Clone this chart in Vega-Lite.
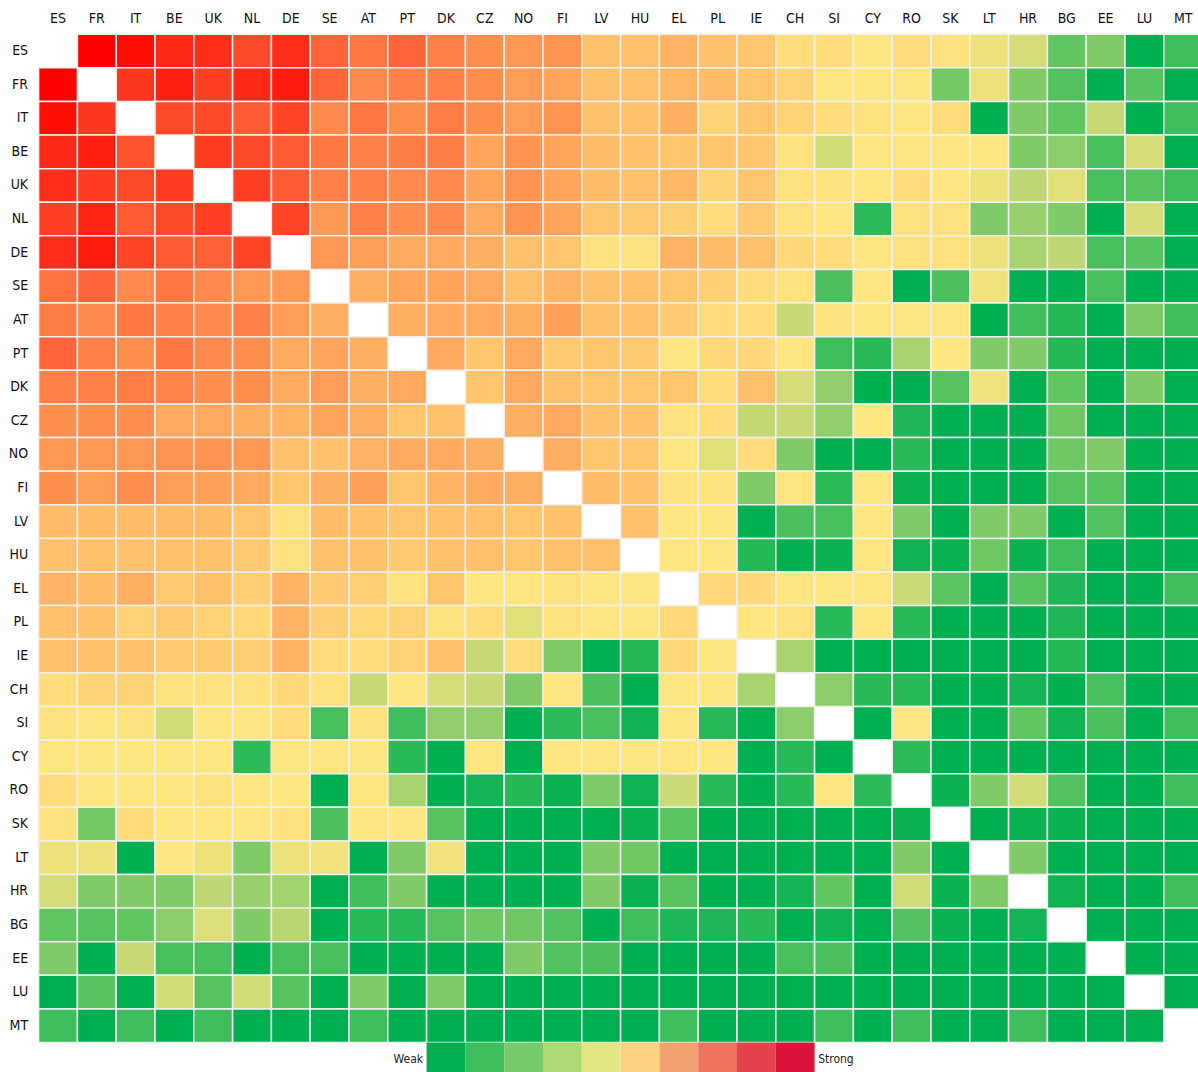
{
"$schema":"https://vega.github.io/schema/vega-lite/v6.json",
"width":1164,"height":1042,
"autosize":{"type":"none"},
"padding":{"left":38.6,"top":34.2,"right":0,"bottom":0},
"background":"white",
"config":{"view":{"stroke":null},"font":"DejaVu Sans Condensed"},
"layer":[
{"data":{"values":[
{"r":"ES","c":"FR","v":100},{"r":"ES","c":"IT","v":97},{"r":"ES","c":"BE","v":91},{"r":"ES","c":"UK","v":90},{"r":"ES","c":"NL","v":84},{"r":"ES","c":"DE","v":90},{"r":"ES","c":"SE","v":78},{"r":"ES","c":"AT","v":74},{"r":"ES","c":"PT","v":78},{"r":"ES","c":"DK","v":72},{"r":"ES","c":"CZ","v":69},{"r":"ES","c":"NO","v":67},{"r":"ES","c":"FI","v":68},{"r":"ES","c":"LV","v":58},{"r":"ES","c":"HU","v":58},{"r":"ES","c":"EL","v":61},{"r":"ES","c":"PL","v":58},{"r":"ES","c":"IE","v":57},{"r":"ES","c":"CH","v":52},{"r":"ES","c":"SI","v":52},{"r":"ES","c":"CY","v":50},{"r":"ES","c":"RO","v":52},{"r":"ES","c":"SK","v":51},{"r":"ES","c":"LT","v":46},{"r":"ES","c":"HR","v":42},{"r":"ES","c":"BG","v":19},{"r":"ES","c":"EE","v":25},{"r":"ES","c":"LU","v":0},{"r":"ES","c":"MT","v":12},
{"r":"FR","c":"ES","v":100},{"r":"FR","c":"IT","v":88},{"r":"FR","c":"BE","v":93},{"r":"FR","c":"UK","v":86},{"r":"FR","c":"NL","v":91},{"r":"FR","c":"DE","v":94},{"r":"FR","c":"SE","v":78},{"r":"FR","c":"AT","v":70},{"r":"FR","c":"PT","v":72},{"r":"FR","c":"DK","v":72},{"r":"FR","c":"CZ","v":69},{"r":"FR","c":"NO","v":66},{"r":"FR","c":"FI","v":64},{"r":"FR","c":"LV","v":58},{"r":"FR","c":"HU","v":58},{"r":"FR","c":"EL","v":60},{"r":"FR","c":"PL","v":59},{"r":"FR","c":"IE","v":57},{"r":"FR","c":"CH","v":54},{"r":"FR","c":"SI","v":50},{"r":"FR","c":"CY","v":50},{"r":"FR","c":"RO","v":50},{"r":"FR","c":"SK","v":23},{"r":"FR","c":"LT","v":46},{"r":"FR","c":"HR","v":25},{"r":"FR","c":"BG","v":16},{"r":"FR","c":"EE","v":0},{"r":"FR","c":"LU","v":17},{"r":"FR","c":"MT","v":0},
{"r":"IT","c":"ES","v":97},{"r":"IT","c":"FR","v":88},{"r":"IT","c":"BE","v":84},{"r":"IT","c":"UK","v":84},{"r":"IT","c":"NL","v":80},{"r":"IT","c":"DE","v":85},{"r":"IT","c":"SE","v":70},{"r":"IT","c":"AT","v":74},{"r":"IT","c":"PT","v":69},{"r":"IT","c":"DK","v":73},{"r":"IT","c":"CZ","v":69},{"r":"IT","c":"NO","v":66},{"r":"IT","c":"FI","v":68},{"r":"IT","c":"LV","v":58},{"r":"IT","c":"HU","v":58},{"r":"IT","c":"EL","v":62},{"r":"IT","c":"PL","v":54},{"r":"IT","c":"IE","v":57},{"r":"IT","c":"CH","v":54},{"r":"IT","c":"SI","v":52},{"r":"IT","c":"CY","v":51},{"r":"IT","c":"RO","v":50},{"r":"IT","c":"SK","v":52},{"r":"IT","c":"LT","v":0},{"r":"IT","c":"HR","v":25},{"r":"IT","c":"BG","v":19},{"r":"IT","c":"EE","v":39},{"r":"IT","c":"LU","v":0},{"r":"IT","c":"MT","v":12},
{"r":"BE","c":"ES","v":91},{"r":"BE","c":"FR","v":93},{"r":"BE","c":"IT","v":82},{"r":"BE","c":"UK","v":87},{"r":"BE","c":"NL","v":84},{"r":"BE","c":"DE","v":80},{"r":"BE","c":"SE","v":74},{"r":"BE","c":"AT","v":72},{"r":"BE","c":"PT","v":73},{"r":"BE","c":"DK","v":73},{"r":"BE","c":"CZ","v":64},{"r":"BE","c":"NO","v":68},{"r":"BE","c":"FI","v":64},{"r":"BE","c":"LV","v":59},{"r":"BE","c":"HU","v":58},{"r":"BE","c":"EL","v":57},{"r":"BE","c":"PL","v":57},{"r":"BE","c":"IE","v":57},{"r":"BE","c":"CH","v":51},{"r":"BE","c":"SI","v":41},{"r":"BE","c":"CY","v":50},{"r":"BE","c":"RO","v":50},{"r":"BE","c":"SK","v":50},{"r":"BE","c":"LT","v":50},{"r":"BE","c":"HR","v":25},{"r":"BE","c":"BG","v":27},{"r":"BE","c":"EE","v":14},{"r":"BE","c":"LU","v":42},{"r":"BE","c":"MT","v":0},
{"r":"UK","c":"ES","v":90},{"r":"UK","c":"FR","v":87},{"r":"UK","c":"IT","v":84},{"r":"UK","c":"BE","v":87},{"r":"UK","c":"NL","v":86},{"r":"UK","c":"DE","v":80},{"r":"UK","c":"SE","v":72},{"r":"UK","c":"AT","v":72},{"r":"UK","c":"PT","v":70},{"r":"UK","c":"DK","v":70},{"r":"UK","c":"CZ","v":64},{"r":"UK","c":"NO","v":68},{"r":"UK","c":"FI","v":64},{"r":"UK","c":"LV","v":59},{"r":"UK","c":"HU","v":58},{"r":"UK","c":"EL","v":60},{"r":"UK","c":"PL","v":54},{"r":"UK","c":"IE","v":57},{"r":"UK","c":"CH","v":51},{"r":"UK","c":"SI","v":51},{"r":"UK","c":"CY","v":50},{"r":"UK","c":"RO","v":52},{"r":"UK","c":"SK","v":50},{"r":"UK","c":"LT","v":46},{"r":"UK","c":"HR","v":37},{"r":"UK","c":"BG","v":44},{"r":"UK","c":"EE","v":14},{"r":"UK","c":"LU","v":17},{"r":"UK","c":"MT","v":12},
{"r":"NL","c":"ES","v":86},{"r":"NL","c":"FR","v":92},{"r":"NL","c":"IT","v":80},{"r":"NL","c":"BE","v":84},{"r":"NL","c":"UK","v":86},{"r":"NL","c":"DE","v":85},{"r":"NL","c":"SE","v":67},{"r":"NL","c":"AT","v":72},{"r":"NL","c":"PT","v":69},{"r":"NL","c":"DK","v":70},{"r":"NL","c":"CZ","v":63},{"r":"NL","c":"NO","v":68},{"r":"NL","c":"FI","v":64},{"r":"NL","c":"LV","v":57},{"r":"NL","c":"HU","v":56},{"r":"NL","c":"EL","v":55},{"r":"NL","c":"PL","v":52},{"r":"NL","c":"IE","v":56},{"r":"NL","c":"CH","v":51},{"r":"NL","c":"SI","v":50},{"r":"NL","c":"CY","v":9},{"r":"NL","c":"RO","v":51},{"r":"NL","c":"SK","v":51},{"r":"NL","c":"LT","v":25},{"r":"NL","c":"HR","v":30},{"r":"NL","c":"BG","v":25},{"r":"NL","c":"EE","v":0},{"r":"NL","c":"LU","v":42},{"r":"NL","c":"MT","v":0},
{"r":"DE","c":"ES","v":90},{"r":"DE","c":"FR","v":94},{"r":"DE","c":"IT","v":85},{"r":"DE","c":"BE","v":80},{"r":"DE","c":"UK","v":79},{"r":"DE","c":"NL","v":85},{"r":"DE","c":"SE","v":67},{"r":"DE","c":"AT","v":66},{"r":"DE","c":"PT","v":63},{"r":"DE","c":"DK","v":63},{"r":"DE","c":"CZ","v":62},{"r":"DE","c":"NO","v":58},{"r":"DE","c":"FI","v":57},{"r":"DE","c":"LV","v":51},{"r":"DE","c":"HU","v":51},{"r":"DE","c":"EL","v":61},{"r":"DE","c":"PL","v":59},{"r":"DE","c":"IE","v":58},{"r":"DE","c":"CH","v":53},{"r":"DE","c":"SI","v":52},{"r":"DE","c":"CY","v":50},{"r":"DE","c":"RO","v":51},{"r":"DE","c":"SK","v":51},{"r":"DE","c":"LT","v":46},{"r":"DE","c":"HR","v":33},{"r":"DE","c":"BG","v":37},{"r":"DE","c":"EE","v":14},{"r":"DE","c":"LU","v":17},{"r":"DE","c":"MT","v":0},
{"r":"SE","c":"ES","v":75},{"r":"SE","c":"FR","v":78},{"r":"SE","c":"IT","v":70},{"r":"SE","c":"BE","v":74},{"r":"SE","c":"UK","v":70},{"r":"SE","c":"NL","v":67},{"r":"SE","c":"DE","v":67},{"r":"SE","c":"AT","v":62},{"r":"SE","c":"PT","v":64},{"r":"SE","c":"DK","v":64},{"r":"SE","c":"CZ","v":63},{"r":"SE","c":"NO","v":58},{"r":"SE","c":"FI","v":61},{"r":"SE","c":"LV","v":58},{"r":"SE","c":"HU","v":58},{"r":"SE","c":"EL","v":57},{"r":"SE","c":"PL","v":55},{"r":"SE","c":"IE","v":52},{"r":"SE","c":"CH","v":51},{"r":"SE","c":"SI","v":15},{"r":"SE","c":"CY","v":50},{"r":"SE","c":"RO","v":0},{"r":"SE","c":"SK","v":15},{"r":"SE","c":"LT","v":47},{"r":"SE","c":"HR","v":0},{"r":"SE","c":"BG","v":0},{"r":"SE","c":"EE","v":14},{"r":"SE","c":"LU","v":0},{"r":"SE","c":"MT","v":0},
{"r":"AT","c":"ES","v":73},{"r":"AT","c":"FR","v":70},{"r":"AT","c":"IT","v":74},{"r":"AT","c":"BE","v":72},{"r":"AT","c":"UK","v":70},{"r":"AT","c":"NL","v":72},{"r":"AT","c":"DE","v":66},{"r":"AT","c":"SE","v":62},{"r":"AT","c":"PT","v":62},{"r":"AT","c":"DK","v":63},{"r":"AT","c":"CZ","v":63},{"r":"AT","c":"NO","v":62},{"r":"AT","c":"FI","v":65},{"r":"AT","c":"LV","v":58},{"r":"AT","c":"HU","v":58},{"r":"AT","c":"EL","v":56},{"r":"AT","c":"PL","v":52},{"r":"AT","c":"IE","v":52},{"r":"AT","c":"CH","v":39},{"r":"AT","c":"SI","v":51},{"r":"AT","c":"CY","v":50},{"r":"AT","c":"RO","v":50},{"r":"AT","c":"SK","v":50},{"r":"AT","c":"LT","v":0},{"r":"AT","c":"HR","v":12},{"r":"AT","c":"BG","v":7},{"r":"AT","c":"EE","v":0},{"r":"AT","c":"LU","v":25},{"r":"AT","c":"MT","v":12},
{"r":"PT","c":"ES","v":78},{"r":"PT","c":"FR","v":72},{"r":"PT","c":"IT","v":69},{"r":"PT","c":"BE","v":74},{"r":"PT","c":"UK","v":70},{"r":"PT","c":"NL","v":69},{"r":"PT","c":"DE","v":63},{"r":"PT","c":"SE","v":64},{"r":"PT","c":"AT","v":62},{"r":"PT","c":"DK","v":63},{"r":"PT","c":"CZ","v":57},{"r":"PT","c":"NO","v":63},{"r":"PT","c":"FI","v":56},{"r":"PT","c":"LV","v":57},{"r":"PT","c":"HU","v":56},{"r":"PT","c":"EL","v":50},{"r":"PT","c":"PL","v":53},{"r":"PT","c":"IE","v":53},{"r":"PT","c":"CH","v":50},{"r":"PT","c":"SI","v":12},{"r":"PT","c":"CY","v":8},{"r":"PT","c":"RO","v":33},{"r":"PT","c":"SK","v":50},{"r":"PT","c":"LT","v":25},{"r":"PT","c":"HR","v":25},{"r":"PT","c":"BG","v":7},{"r":"PT","c":"EE","v":0},{"r":"PT","c":"LU","v":0},{"r":"PT","c":"MT","v":0},
{"r":"DK","c":"ES","v":72},{"r":"DK","c":"FR","v":72},{"r":"DK","c":"IT","v":73},{"r":"DK","c":"BE","v":71},{"r":"DK","c":"UK","v":69},{"r":"DK","c":"NL","v":69},{"r":"DK","c":"DE","v":63},{"r":"DK","c":"SE","v":66},{"r":"DK","c":"AT","v":62},{"r":"DK","c":"PT","v":63},{"r":"DK","c":"CZ","v":57},{"r":"DK","c":"NO","v":63},{"r":"DK","c":"FI","v":58},{"r":"DK","c":"LV","v":57},{"r":"DK","c":"HU","v":57},{"r":"DK","c":"EL","v":57},{"r":"DK","c":"PL","v":52},{"r":"DK","c":"IE","v":58},{"r":"DK","c":"CH","v":42},{"r":"DK","c":"SI","v":28},{"r":"DK","c":"CY","v":0},{"r":"DK","c":"RO","v":0},{"r":"DK","c":"SK","v":17},{"r":"DK","c":"LT","v":47},{"r":"DK","c":"HR","v":0},{"r":"DK","c":"BG","v":19},{"r":"DK","c":"EE","v":0},{"r":"DK","c":"LU","v":25},{"r":"DK","c":"MT","v":0},
{"r":"CZ","c":"ES","v":69},{"r":"CZ","c":"FR","v":69},{"r":"CZ","c":"IT","v":69},{"r":"CZ","c":"BE","v":63},{"r":"CZ","c":"UK","v":63},{"r":"CZ","c":"NL","v":62},{"r":"CZ","c":"DE","v":61},{"r":"CZ","c":"SE","v":64},{"r":"CZ","c":"AT","v":62},{"r":"CZ","c":"PT","v":57},{"r":"CZ","c":"DK","v":58},{"r":"CZ","c":"NO","v":62},{"r":"CZ","c":"FI","v":63},{"r":"CZ","c":"LV","v":58},{"r":"CZ","c":"HU","v":58},{"r":"CZ","c":"EL","v":51},{"r":"CZ","c":"PL","v":52},{"r":"CZ","c":"IE","v":38},{"r":"CZ","c":"CH","v":39},{"r":"CZ","c":"SI","v":28},{"r":"CZ","c":"CY","v":50},{"r":"CZ","c":"RO","v":6},{"r":"CZ","c":"SK","v":0},{"r":"CZ","c":"LT","v":0},{"r":"CZ","c":"HR","v":0},{"r":"CZ","c":"BG","v":22},{"r":"CZ","c":"EE","v":0},{"r":"CZ","c":"LU","v":0},{"r":"CZ","c":"MT","v":0},
{"r":"NO","c":"ES","v":67},{"r":"NO","c":"FR","v":67},{"r":"NO","c":"IT","v":67},{"r":"NO","c":"BE","v":68},{"r":"NO","c":"UK","v":68},{"r":"NO","c":"NL","v":67},{"r":"NO","c":"DE","v":58},{"r":"NO","c":"SE","v":58},{"r":"NO","c":"AT","v":61},{"r":"NO","c":"PT","v":63},{"r":"NO","c":"DK","v":63},{"r":"NO","c":"CZ","v":62},{"r":"NO","c":"FI","v":62},{"r":"NO","c":"LV","v":57},{"r":"NO","c":"HU","v":57},{"r":"NO","c":"EL","v":50},{"r":"NO","c":"PL","v":44},{"r":"NO","c":"IE","v":52},{"r":"NO","c":"CH","v":25},{"r":"NO","c":"SI","v":0},{"r":"NO","c":"CY","v":0},{"r":"NO","c":"RO","v":8},{"r":"NO","c":"SK","v":0},{"r":"NO","c":"LT","v":0},{"r":"NO","c":"HR","v":0},{"r":"NO","c":"BG","v":22},{"r":"NO","c":"EE","v":25},{"r":"NO","c":"LU","v":0},{"r":"NO","c":"MT","v":0},
{"r":"FI","c":"ES","v":69},{"r":"FI","c":"FR","v":66},{"r":"FI","c":"IT","v":69},{"r":"FI","c":"BE","v":66},{"r":"FI","c":"UK","v":65},{"r":"FI","c":"NL","v":63},{"r":"FI","c":"DE","v":57},{"r":"FI","c":"SE","v":62},{"r":"FI","c":"AT","v":65},{"r":"FI","c":"PT","v":57},{"r":"FI","c":"DK","v":61},{"r":"FI","c":"CZ","v":63},{"r":"FI","c":"NO","v":62},{"r":"FI","c":"LV","v":59},{"r":"FI","c":"HU","v":58},{"r":"FI","c":"EL","v":51},{"r":"FI","c":"PL","v":51},{"r":"FI","c":"IE","v":25},{"r":"FI","c":"CH","v":50},{"r":"FI","c":"SI","v":9},{"r":"FI","c":"CY","v":50},{"r":"FI","c":"RO","v":2},{"r":"FI","c":"SK","v":0},{"r":"FI","c":"LT","v":0},{"r":"FI","c":"HR","v":0},{"r":"FI","c":"BG","v":17},{"r":"FI","c":"EE","v":17},{"r":"FI","c":"LU","v":0},{"r":"FI","c":"MT","v":0},
{"r":"LV","c":"ES","v":59},{"r":"LV","c":"FR","v":59},{"r":"LV","c":"IT","v":59},{"r":"LV","c":"BE","v":59},{"r":"LV","c":"UK","v":59},{"r":"LV","c":"NL","v":57},{"r":"LV","c":"DE","v":51},{"r":"LV","c":"SE","v":59},{"r":"LV","c":"AT","v":58},{"r":"LV","c":"PT","v":57},{"r":"LV","c":"DK","v":58},{"r":"LV","c":"CZ","v":58},{"r":"LV","c":"NO","v":57},{"r":"LV","c":"FI","v":58},{"r":"LV","c":"HU","v":58},{"r":"LV","c":"EL","v":50},{"r":"LV","c":"PL","v":50},{"r":"LV","c":"IE","v":0},{"r":"LV","c":"CH","v":15},{"r":"LV","c":"SI","v":14},{"r":"LV","c":"CY","v":50},{"r":"LV","c":"RO","v":25},{"r":"LV","c":"SK","v":0},{"r":"LV","c":"LT","v":25},{"r":"LV","c":"HR","v":25},{"r":"LV","c":"BG","v":0},{"r":"LV","c":"EE","v":16},{"r":"LV","c":"LU","v":0},{"r":"LV","c":"MT","v":0},
{"r":"HU","c":"ES","v":58},{"r":"HU","c":"FR","v":58},{"r":"HU","c":"IT","v":58},{"r":"HU","c":"BE","v":58},{"r":"HU","c":"UK","v":58},{"r":"HU","c":"NL","v":56},{"r":"HU","c":"DE","v":51},{"r":"HU","c":"SE","v":58},{"r":"HU","c":"AT","v":58},{"r":"HU","c":"PT","v":56},{"r":"HU","c":"DK","v":58},{"r":"HU","c":"CZ","v":58},{"r":"HU","c":"NO","v":57},{"r":"HU","c":"FI","v":58},{"r":"HU","c":"LV","v":58},{"r":"HU","c":"EL","v":50},{"r":"HU","c":"PL","v":50},{"r":"HU","c":"IE","v":7},{"r":"HU","c":"CH","v":0},{"r":"HU","c":"SI","v":2},{"r":"HU","c":"CY","v":50},{"r":"HU","c":"RO","v":3},{"r":"HU","c":"SK","v":2},{"r":"HU","c":"LT","v":22},{"r":"HU","c":"HR","v":2},{"r":"HU","c":"BG","v":12},{"r":"HU","c":"EE","v":0},{"r":"HU","c":"LU","v":0},{"r":"HU","c":"MT","v":0},
{"r":"EL","c":"ES","v":61},{"r":"EL","c":"FR","v":59},{"r":"EL","c":"IT","v":62},{"r":"EL","c":"BE","v":56},{"r":"EL","c":"UK","v":58},{"r":"EL","c":"NL","v":55},{"r":"EL","c":"DE","v":61},{"r":"EL","c":"SE","v":56},{"r":"EL","c":"AT","v":55},{"r":"EL","c":"PT","v":51},{"r":"EL","c":"DK","v":57},{"r":"EL","c":"CZ","v":50},{"r":"EL","c":"NO","v":50},{"r":"EL","c":"FI","v":51},{"r":"EL","c":"LV","v":50},{"r":"EL","c":"HU","v":50},{"r":"EL","c":"PL","v":53},{"r":"EL","c":"IE","v":53},{"r":"EL","c":"CH","v":50},{"r":"EL","c":"SI","v":50},{"r":"EL","c":"CY","v":50},{"r":"EL","c":"RO","v":40},{"r":"EL","c":"SK","v":18},{"r":"EL","c":"LT","v":0},{"r":"EL","c":"HR","v":17},{"r":"EL","c":"BG","v":6},{"r":"EL","c":"EE","v":0},{"r":"EL","c":"LU","v":0},{"r":"EL","c":"MT","v":12},
{"r":"PL","c":"ES","v":58},{"r":"PL","c":"FR","v":58},{"r":"PL","c":"IT","v":54},{"r":"PL","c":"BE","v":56},{"r":"PL","c":"UK","v":54},{"r":"PL","c":"NL","v":53},{"r":"PL","c":"DE","v":61},{"r":"PL","c":"SE","v":55},{"r":"PL","c":"AT","v":53},{"r":"PL","c":"PT","v":54},{"r":"PL","c":"DK","v":51},{"r":"PL","c":"CZ","v":52},{"r":"PL","c":"NO","v":44},{"r":"PL","c":"FI","v":51},{"r":"PL","c":"LV","v":50},{"r":"PL","c":"HU","v":50},{"r":"PL","c":"EL","v":53},{"r":"PL","c":"IE","v":50},{"r":"PL","c":"CH","v":51},{"r":"PL","c":"SI","v":8},{"r":"PL","c":"CY","v":50},{"r":"PL","c":"RO","v":8},{"r":"PL","c":"SK","v":0},{"r":"PL","c":"LT","v":0},{"r":"PL","c":"HR","v":0},{"r":"PL","c":"BG","v":6},{"r":"PL","c":"EE","v":0},{"r":"PL","c":"LU","v":0},{"r":"PL","c":"MT","v":0},
{"r":"IE","c":"ES","v":58},{"r":"IE","c":"FR","v":58},{"r":"IE","c":"IT","v":58},{"r":"IE","c":"BE","v":56},{"r":"IE","c":"UK","v":56},{"r":"IE","c":"NL","v":55},{"r":"IE","c":"DE","v":61},{"r":"IE","c":"SE","v":52},{"r":"IE","c":"AT","v":52},{"r":"IE","c":"PT","v":54},{"r":"IE","c":"DK","v":58},{"r":"IE","c":"CZ","v":39},{"r":"IE","c":"NO","v":52},{"r":"IE","c":"FI","v":25},{"r":"IE","c":"LV","v":0},{"r":"IE","c":"HU","v":7},{"r":"IE","c":"EL","v":53},{"r":"IE","c":"PL","v":50},{"r":"IE","c":"CH","v":33},{"r":"IE","c":"SI","v":0},{"r":"IE","c":"CY","v":0},{"r":"IE","c":"RO","v":0},{"r":"IE","c":"SK","v":0},{"r":"IE","c":"LT","v":0},{"r":"IE","c":"HR","v":0},{"r":"IE","c":"BG","v":7},{"r":"IE","c":"EE","v":0},{"r":"IE","c":"LU","v":0},{"r":"IE","c":"MT","v":0},
{"r":"CH","c":"ES","v":52},{"r":"CH","c":"FR","v":54},{"r":"CH","c":"IT","v":54},{"r":"CH","c":"BE","v":51},{"r":"CH","c":"UK","v":51},{"r":"CH","c":"NL","v":51},{"r":"CH","c":"DE","v":53},{"r":"CH","c":"SE","v":51},{"r":"CH","c":"AT","v":39},{"r":"CH","c":"PT","v":50},{"r":"CH","c":"DK","v":42},{"r":"CH","c":"CZ","v":39},{"r":"CH","c":"NO","v":25},{"r":"CH","c":"FI","v":50},{"r":"CH","c":"LV","v":15},{"r":"CH","c":"HU","v":0},{"r":"CH","c":"EL","v":50},{"r":"CH","c":"PL","v":50},{"r":"CH","c":"IE","v":33},{"r":"CH","c":"SI","v":27},{"r":"CH","c":"CY","v":8},{"r":"CH","c":"RO","v":8},{"r":"CH","c":"SK","v":0},{"r":"CH","c":"LT","v":0},{"r":"CH","c":"HR","v":4},{"r":"CH","c":"BG","v":0},{"r":"CH","c":"EE","v":14},{"r":"CH","c":"LU","v":0},{"r":"CH","c":"MT","v":0},
{"r":"SI","c":"ES","v":51},{"r":"SI","c":"FR","v":50},{"r":"SI","c":"IT","v":51},{"r":"SI","c":"BE","v":41},{"r":"SI","c":"UK","v":50},{"r":"SI","c":"NL","v":50},{"r":"SI","c":"DE","v":52},{"r":"SI","c":"SE","v":14},{"r":"SI","c":"AT","v":51},{"r":"SI","c":"PT","v":12},{"r":"SI","c":"DK","v":28},{"r":"SI","c":"CZ","v":28},{"r":"SI","c":"NO","v":0},{"r":"SI","c":"FI","v":9},{"r":"SI","c":"LV","v":14},{"r":"SI","c":"HU","v":3},{"r":"SI","c":"EL","v":50},{"r":"SI","c":"PL","v":8},{"r":"SI","c":"IE","v":0},{"r":"SI","c":"CH","v":27},{"r":"SI","c":"CY","v":0},{"r":"SI","c":"RO","v":50},{"r":"SI","c":"SK","v":0},{"r":"SI","c":"LT","v":0},{"r":"SI","c":"HR","v":19},{"r":"SI","c":"BG","v":3},{"r":"SI","c":"EE","v":15},{"r":"SI","c":"LU","v":0},{"r":"SI","c":"MT","v":12},
{"r":"CY","c":"ES","v":50},{"r":"CY","c":"FR","v":50},{"r":"CY","c":"IT","v":50},{"r":"CY","c":"BE","v":50},{"r":"CY","c":"UK","v":50},{"r":"CY","c":"NL","v":9},{"r":"CY","c":"DE","v":50},{"r":"CY","c":"SE","v":50},{"r":"CY","c":"AT","v":50},{"r":"CY","c":"PT","v":8},{"r":"CY","c":"DK","v":0},{"r":"CY","c":"CZ","v":50},{"r":"CY","c":"NO","v":0},{"r":"CY","c":"FI","v":50},{"r":"CY","c":"LV","v":50},{"r":"CY","c":"HU","v":50},{"r":"CY","c":"EL","v":50},{"r":"CY","c":"PL","v":50},{"r":"CY","c":"IE","v":0},{"r":"CY","c":"CH","v":8},{"r":"CY","c":"SI","v":0},{"r":"CY","c":"RO","v":9},{"r":"CY","c":"SK","v":0},{"r":"CY","c":"LT","v":0},{"r":"CY","c":"HR","v":0},{"r":"CY","c":"BG","v":0},{"r":"CY","c":"EE","v":0},{"r":"CY","c":"LU","v":0},{"r":"CY","c":"MT","v":0},
{"r":"RO","c":"ES","v":52},{"r":"RO","c":"FR","v":50},{"r":"RO","c":"IT","v":50},{"r":"RO","c":"BE","v":50},{"r":"RO","c":"UK","v":51},{"r":"RO","c":"NL","v":50},{"r":"RO","c":"DE","v":50},{"r":"RO","c":"SE","v":0},{"r":"RO","c":"AT","v":50},{"r":"RO","c":"PT","v":33},{"r":"RO","c":"DK","v":0},{"r":"RO","c":"CZ","v":4},{"r":"RO","c":"NO","v":7},{"r":"RO","c":"FI","v":2},{"r":"RO","c":"LV","v":25},{"r":"RO","c":"HU","v":3},{"r":"RO","c":"EL","v":40},{"r":"RO","c":"PL","v":8},{"r":"RO","c":"IE","v":0},{"r":"RO","c":"CH","v":8},{"r":"RO","c":"SI","v":50},{"r":"RO","c":"CY","v":9},{"r":"RO","c":"SK","v":2},{"r":"RO","c":"LT","v":25},{"r":"RO","c":"HR","v":41},{"r":"RO","c":"BG","v":16},{"r":"RO","c":"EE","v":0},{"r":"RO","c":"LU","v":0},{"r":"RO","c":"MT","v":12},
{"r":"SK","c":"ES","v":51},{"r":"SK","c":"FR","v":23},{"r":"SK","c":"IT","v":52},{"r":"SK","c":"BE","v":50},{"r":"SK","c":"UK","v":50},{"r":"SK","c":"NL","v":50},{"r":"SK","c":"DE","v":51},{"r":"SK","c":"SE","v":15},{"r":"SK","c":"AT","v":50},{"r":"SK","c":"PT","v":50},{"r":"SK","c":"DK","v":17},{"r":"SK","c":"CZ","v":0},{"r":"SK","c":"NO","v":0},{"r":"SK","c":"FI","v":0},{"r":"SK","c":"LV","v":0},{"r":"SK","c":"HU","v":2},{"r":"SK","c":"EL","v":18},{"r":"SK","c":"PL","v":0},{"r":"SK","c":"IE","v":0},{"r":"SK","c":"CH","v":0},{"r":"SK","c":"SI","v":0},{"r":"SK","c":"CY","v":0},{"r":"SK","c":"RO","v":2},{"r":"SK","c":"LT","v":0},{"r":"SK","c":"HR","v":2},{"r":"SK","c":"BG","v":2},{"r":"SK","c":"EE","v":0},{"r":"SK","c":"LU","v":0},{"r":"SK","c":"MT","v":0},
{"r":"LT","c":"ES","v":46},{"r":"LT","c":"FR","v":46},{"r":"LT","c":"IT","v":0},{"r":"LT","c":"BE","v":50},{"r":"LT","c":"UK","v":46},{"r":"LT","c":"NL","v":25},{"r":"LT","c":"DE","v":46},{"r":"LT","c":"SE","v":47},{"r":"LT","c":"AT","v":0},{"r":"LT","c":"PT","v":25},{"r":"LT","c":"DK","v":47},{"r":"LT","c":"CZ","v":0},{"r":"LT","c":"NO","v":0},{"r":"LT","c":"FI","v":0},{"r":"LT","c":"LV","v":25},{"r":"LT","c":"HU","v":22},{"r":"LT","c":"EL","v":0},{"r":"LT","c":"PL","v":0},{"r":"LT","c":"IE","v":0},{"r":"LT","c":"CH","v":0},{"r":"LT","c":"SI","v":0},{"r":"LT","c":"CY","v":0},{"r":"LT","c":"RO","v":25},{"r":"LT","c":"SK","v":0},{"r":"LT","c":"HR","v":25},{"r":"LT","c":"BG","v":0},{"r":"LT","c":"EE","v":0},{"r":"LT","c":"LU","v":0},{"r":"LT","c":"MT","v":0},
{"r":"HR","c":"ES","v":42},{"r":"HR","c":"FR","v":25},{"r":"HR","c":"IT","v":25},{"r":"HR","c":"BE","v":25},{"r":"HR","c":"UK","v":37},{"r":"HR","c":"NL","v":30},{"r":"HR","c":"DE","v":32},{"r":"HR","c":"SE","v":0},{"r":"HR","c":"AT","v":12},{"r":"HR","c":"PT","v":25},{"r":"HR","c":"DK","v":0},{"r":"HR","c":"CZ","v":0},{"r":"HR","c":"NO","v":0},{"r":"HR","c":"FI","v":0},{"r":"HR","c":"LV","v":25},{"r":"HR","c":"HU","v":2},{"r":"HR","c":"EL","v":17},{"r":"HR","c":"PL","v":0},{"r":"HR","c":"IE","v":0},{"r":"HR","c":"CH","v":4},{"r":"HR","c":"SI","v":19},{"r":"HR","c":"CY","v":0},{"r":"HR","c":"RO","v":41},{"r":"HR","c":"SK","v":2},{"r":"HR","c":"LT","v":25},{"r":"HR","c":"BG","v":3},{"r":"HR","c":"EE","v":0},{"r":"HR","c":"LU","v":0},{"r":"HR","c":"MT","v":12},
{"r":"BG","c":"ES","v":19},{"r":"BG","c":"FR","v":17},{"r":"BG","c":"IT","v":19},{"r":"BG","c":"BE","v":27},{"r":"BG","c":"UK","v":43},{"r":"BG","c":"NL","v":25},{"r":"BG","c":"DE","v":36},{"r":"BG","c":"SE","v":0},{"r":"BG","c":"AT","v":8},{"r":"BG","c":"PT","v":8},{"r":"BG","c":"DK","v":17},{"r":"BG","c":"CZ","v":22},{"r":"BG","c":"NO","v":22},{"r":"BG","c":"FI","v":16},{"r":"BG","c":"LV","v":0},{"r":"BG","c":"HU","v":12},{"r":"BG","c":"EL","v":6},{"r":"BG","c":"PL","v":6},{"r":"BG","c":"IE","v":8},{"r":"BG","c":"CH","v":0},{"r":"BG","c":"SI","v":3},{"r":"BG","c":"CY","v":0},{"r":"BG","c":"RO","v":16},{"r":"BG","c":"SK","v":2},{"r":"BG","c":"LT","v":0},{"r":"BG","c":"HR","v":4},{"r":"BG","c":"EE","v":0},{"r":"BG","c":"LU","v":0},{"r":"BG","c":"MT","v":0},
{"r":"EE","c":"ES","v":25},{"r":"EE","c":"FR","v":0},{"r":"EE","c":"IT","v":39},{"r":"EE","c":"BE","v":14},{"r":"EE","c":"UK","v":14},{"r":"EE","c":"NL","v":0},{"r":"EE","c":"DE","v":14},{"r":"EE","c":"SE","v":14},{"r":"EE","c":"AT","v":0},{"r":"EE","c":"PT","v":0},{"r":"EE","c":"DK","v":0},{"r":"EE","c":"CZ","v":0},{"r":"EE","c":"NO","v":25},{"r":"EE","c":"FI","v":16},{"r":"EE","c":"LV","v":15},{"r":"EE","c":"HU","v":0},{"r":"EE","c":"EL","v":0},{"r":"EE","c":"PL","v":0},{"r":"EE","c":"IE","v":0},{"r":"EE","c":"CH","v":14},{"r":"EE","c":"SI","v":15},{"r":"EE","c":"CY","v":0},{"r":"EE","c":"RO","v":0},{"r":"EE","c":"SK","v":0},{"r":"EE","c":"LT","v":0},{"r":"EE","c":"HR","v":0},{"r":"EE","c":"BG","v":0},{"r":"EE","c":"LU","v":0},{"r":"EE","c":"MT","v":0},
{"r":"LU","c":"ES","v":0},{"r":"LU","c":"FR","v":17},{"r":"LU","c":"IT","v":0},{"r":"LU","c":"BE","v":41},{"r":"LU","c":"UK","v":17},{"r":"LU","c":"NL","v":41},{"r":"LU","c":"DE","v":17},{"r":"LU","c":"SE","v":0},{"r":"LU","c":"AT","v":25},{"r":"LU","c":"PT","v":0},{"r":"LU","c":"DK","v":25},{"r":"LU","c":"CZ","v":0},{"r":"LU","c":"NO","v":0},{"r":"LU","c":"FI","v":0},{"r":"LU","c":"LV","v":0},{"r":"LU","c":"HU","v":0},{"r":"LU","c":"EL","v":0},{"r":"LU","c":"PL","v":0},{"r":"LU","c":"IE","v":0},{"r":"LU","c":"CH","v":0},{"r":"LU","c":"SI","v":0},{"r":"LU","c":"CY","v":0},{"r":"LU","c":"RO","v":0},{"r":"LU","c":"SK","v":0},{"r":"LU","c":"LT","v":0},{"r":"LU","c":"HR","v":0},{"r":"LU","c":"BG","v":0},{"r":"LU","c":"EE","v":0},{"r":"LU","c":"MT","v":0},
{"r":"MT","c":"ES","v":12},{"r":"MT","c":"FR","v":0},{"r":"MT","c":"IT","v":12},{"r":"MT","c":"BE","v":0},{"r":"MT","c":"UK","v":12},{"r":"MT","c":"NL","v":0},{"r":"MT","c":"DE","v":0},{"r":"MT","c":"SE","v":0},{"r":"MT","c":"AT","v":12},{"r":"MT","c":"PT","v":0},{"r":"MT","c":"DK","v":0},{"r":"MT","c":"CZ","v":0},{"r":"MT","c":"NO","v":0},{"r":"MT","c":"FI","v":0},{"r":"MT","c":"LV","v":0},{"r":"MT","c":"HU","v":0},{"r":"MT","c":"EL","v":12},{"r":"MT","c":"PL","v":0},{"r":"MT","c":"IE","v":0},{"r":"MT","c":"CH","v":0},{"r":"MT","c":"SI","v":12},{"r":"MT","c":"CY","v":0},{"r":"MT","c":"RO","v":12},{"r":"MT","c":"SK","v":0},{"r":"MT","c":"LT","v":0},{"r":"MT","c":"HR","v":12},{"r":"MT","c":"BG","v":0},{"r":"MT","c":"EE","v":0},{"r":"MT","c":"LU","v":0}
]},
"mark":{"type":"rect","stroke":"#F0F0F0","strokeWidth":1.5},
"encoding":{
"x":{"field":"c","type":"nominal","scale":{"domain":["ES","FR","IT","BE","UK","NL","DE","SE","AT","PT","DK","CZ","NO","FI","LV","HU","EL","PL","IE","CH","SI","CY","RO","SK","LT","HR","BG","EE","LU","MT"],"paddingInner":0,"paddingOuter":0},"axis":{"orient":"top","title":null,"ticks":false,"tickSize":0,"domain":false,"labelAngle":0,"labelFontSize":14,"labelPadding":9,"labelColor":"#111111","labelFont":"DejaVu Sans Condensed"}},
"y":{"field":"r","type":"nominal","scale":{"domain":["ES","FR","IT","BE","UK","NL","DE","SE","AT","PT","DK","CZ","NO","FI","LV","HU","EL","PL","IE","CH","SI","CY","RO","SK","LT","HR","BG","EE","LU","MT"," "],"paddingInner":0,"paddingOuter":0},"axis":{"title":null,"ticks":false,"tickSize":0,"domain":false,"labelFontSize":14,"labelPadding":11,"labelColor":"#111111","labelFont":"DejaVu Sans Condensed"}},
"color":{"field":"v","type":"quantitative","scale":{"domain":[0,50,100],"range":["#00B050","#FFE680","#FF0000"],"interpolate":"rgb"},"legend":null}
}},
{"layer":[
{"data":{"values":[{"level":1},{"level":2},{"level":3},{"level":4},{"level":5},{"level":6},{"level":7},{"level":8},{"level":9},{"level":10}]},
"mark":{"type":"rect"},
"encoding":{
"x":{"field":"level","type":"ordinal","scale":{"domain":[-9,-8,-7,-6,-5,-4,-3,-2,-1,0,1,2,3,4,5,6,7,8,9,10,11,12,13,14,15,16,17,18,19,20],"paddingInner":0,"paddingOuter":0},"axis":null},
"y":{"datum":" ","type":"nominal","title":null},
"color":{"field":"level","type":"ordinal","scale":{"domain":[1,2,3,4,5,6,7,8,9,10],"range":["#00B050","#3CBE5F","#77CB6C","#AFD974","#E4E684","#FAD280","#F3A26F","#EC735E","#E4434C","#DC143C"]},"legend":null}
}},
{"data":{"values":[{}]},
"mark":{"type":"text","align":"right","dx":-23,"fontSize":12,"color":"#222222","font":"DejaVu Sans Condensed"},
"encoding":{"x":{"datum":1,"type":"ordinal","axis":null},"y":{"datum":" ","type":"nominal","title":null},"text":{"value":"Weak"}}},
{"data":{"values":[{}]},
"mark":{"type":"text","align":"left","dx":23,"fontSize":12,"color":"#222222","font":"DejaVu Sans Condensed"},
"encoding":{"x":{"datum":10,"type":"ordinal","axis":null},"y":{"datum":" ","type":"nominal","title":null},"text":{"value":"Strong"}}}
]}
],
"resolve":{"scale":{"x":"independent","color":"independent"}}
}
